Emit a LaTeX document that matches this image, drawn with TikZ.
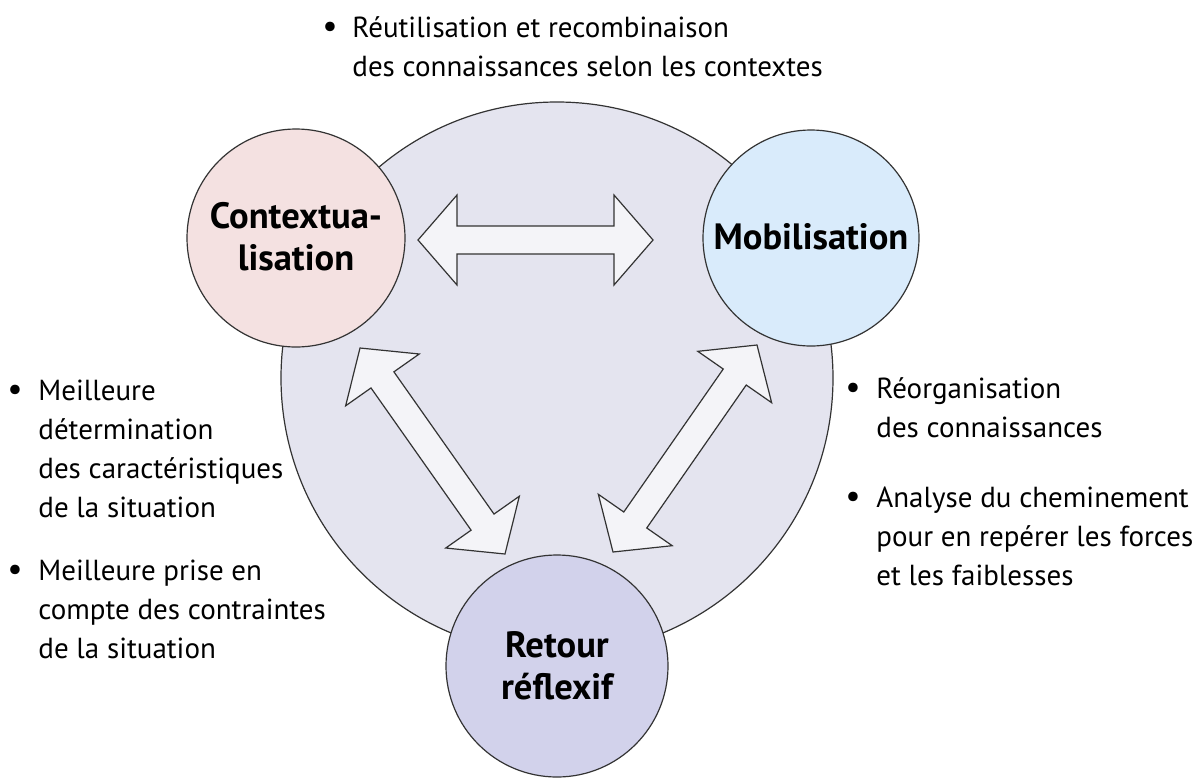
\documentclass[tikz,border=0pt]{standalone}
\usepackage{fontspec}
\setmainfont{PT Sans}
\usetikzlibrary{calc}
\definecolor{bigc}{HTML}{E4E4EF}
\definecolor{ctxc}{HTML}{F4E1E1}
\definecolor{mobc}{HTML}{D9EBFB}
\definecolor{retc}{HTML}{D2D2EB}
\definecolor{arrc}{HTML}{F4F4F8}
\definecolor{linec}{HTML}{333333}
\newcommand\blockarrow[2]{%
  \draw[barrow] (#1)
    -- ($(#1)!19.5pt!(#2)!22.5pt!90:(#2)$)
    -- ($(#1)!19.5pt!(#2)!7pt!90:(#2)$)
    -- ($(#2)!19.5pt!(#1)!7pt!-90:(#1)$)
    -- ($(#2)!19.5pt!(#1)!22.5pt!-90:(#1)$)
    -- (#2)
    -- ($(#2)!19.5pt!(#1)!22.5pt!90:(#1)$)
    -- ($(#2)!19.5pt!(#1)!7pt!90:(#1)$)
    -- ($(#1)!19.5pt!(#2)!7pt!-90:(#2)$)
    -- ($(#1)!19.5pt!(#2)!22.5pt!-90:(#2)$)
    -- cycle;}
\begin{document}
\begin{tikzpicture}[x=0.5pt,y=-0.5pt,
  circ/.style={circle, draw=linec, line width=0.6pt, inner sep=0pt, align=center,
    font=\fontsize{18.3}{21}\selectfont\bfseries},
  barrow/.style={draw=linec, fill=arrc, line width=0.6pt, line join=miter},
  txt/.style={inner sep=0pt, anchor=base west, font=\fontsize{14.5}{19.5}\selectfont},
  bul/.style={inner sep=0pt, anchor=base, font=\fontsize{17}{19.5}\selectfont}]
\useasboundingbox (0,0) rectangle (1195,778);
% big circle
\node[circle, draw=linec, fill=bigc, line width=0.6pt, minimum size=552*0.5pt, inner sep=0pt] (big) at (557,378) {};
% small circles
\node[circ, fill=ctxc, minimum size=218*0.5pt] (ctx) at (296,238) {\raisebox{2pt}{Contextua-}\\\raisebox{2pt}{lisation}};
\node[circ, fill=mobc, minimum size=216*0.5pt] (mob) at (811,238) {\raisebox{2pt}{Mobilisation}};
\node[circ, fill=retc, minimum size=222*0.5pt] (ret) at (557,666) {Retour\\réflexif};
% arrow end points
\coordinate (h1) at (418,240);
\coordinate (h2) at (653,240);
\coordinate (l1) at (360,348);
\coordinate (l2) at (505,554);
\coordinate (r1) at (757,345);
\coordinate (r2) at (613,552);
\blockarrow{h1}{h2}
\blockarrow{l1}{l2}
\blockarrow{r1}{r2}
% top text
\node[bul] (tb) at (330,37) {•};
\node[txt] (tt) at (352,37) {\begin{tabular}[t]{@{}l@{}}Réutilisation et recombinaison\\des connaissances selon les contextes\end{tabular}};
% left text
\node[bul] (lb1) at (15,400) {•};
\node[txt] (lt1) at (38,400) {\begin{tabular}[t]{@{}l@{}}Meilleure\\détermination\\des caractéristiques\\de la situation\end{tabular}};
\node[bul] (lb2) at (15,580) {•};
\node[txt] (lt2) at (38,580) {\begin{tabular}[t]{@{}l@{}}Meilleure prise en\\compte des contraintes\\de la situation\end{tabular}};
% right text
\node[bul] (rb1) at (853,398) {•};
\node[txt] (rt1) at (876,398) {\begin{tabular}[t]{@{}l@{}}Réorganisation\\des connaissances\end{tabular}};
\node[bul] (rb2) at (853,507) {•};
\node[txt] (rt2) at (876,507) {\begin{tabular}[t]{@{}l@{}}Analyse du cheminement\\pour en repérer les forces\\et les faiblesses\end{tabular}};
\end{tikzpicture}
\end{document}
